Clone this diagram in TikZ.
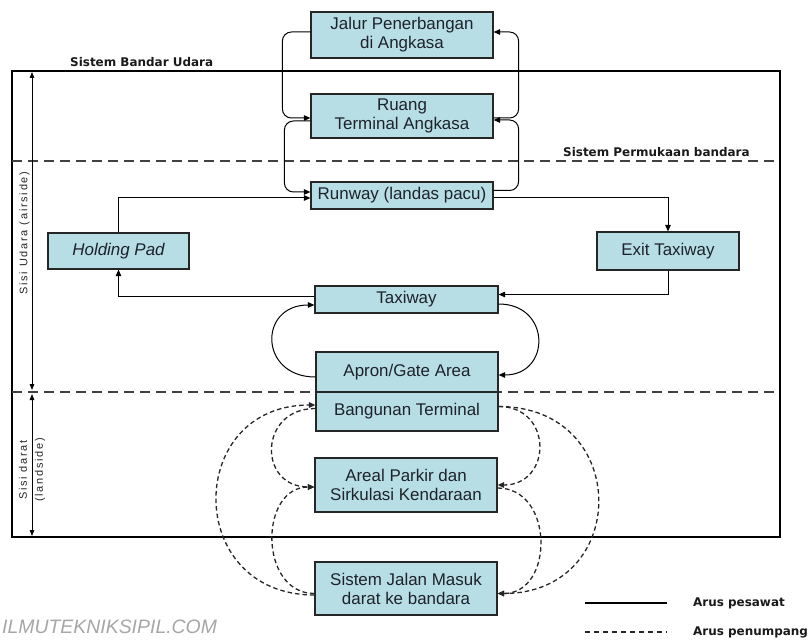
\documentclass[tikz,border=0pt]{standalone}
\usepackage{fontspec}
\setmainfont{Liberation Sans}
\newfontfamily\labelfont{DejaVu Sans}
\newfontfamily\sidefont[LetterSpace=16]{Liberation Sans}
\usepackage{tikz}
\usepackage{xcolor}
\usetikzlibrary{arrows.meta, calc}
\definecolor{boxcolor}{RGB}{183,221,229}
\definecolor{boxtext}{RGB}{30,34,42}
\tikzstyle{block} = [draw=black!85, line width=1.2bp, fill=boxcolor, text=boxtext, font=\fontsize{17}{19}\selectfont, align=center, inner sep=0pt, minimum width=182bp]
\tikzstyle{planeflow} = [-{Triangle[length=6.5bp,width=5.5bp]}, line width=1bp]
\tikzstyle{paxflow} = [planeflow, dash pattern=on 4.5bp off 3bp, line width=1.3bp, black!85]
\tikzstyle{divider} = [dash pattern=on 10bp off 6bp, line width=1.2bp, black!75]
\tikzstyle{caption} = [font=\labelfont\bfseries\fontsize{12}{14}\selectfont, text=black!90, inner sep=0pt]
\tikzstyle{sidelabel} = [font=\sidefont\fontsize{11}{16}\selectfont, text=black!85, inner sep=0pt]
\tikzstyle{sidearrow} = [{Triangle[length=6bp,width=4.5bp]}-{Triangle[length=6bp,width=4.5bp]}, line width=1bp]

\begin{document}
\begin{tikzpicture}[x=1bp, y=-1bp]
    \useasboundingbox (0,0) rectangle (810,640);

    % Frame of the airport system
    \draw[line width=2.2bp] (12,71) rectangle (780,537);
    \draw[divider] (12,161) -- (780,161);
    \draw[divider] (12,392) -- (780,392);
    \node[caption, anchor=west] (bandar_title) at (70,62) {Sistem Bandar Udara};
    \node[caption, anchor=west] (permukaan_title) at (563,152) {Sistem Permukaan bandara};

    % Airside / landside extent
    \coordinate (air_top) at (32,72);
    \coordinate (air_bottom) at (32,390);
    \coordinate (land_top) at (32,394);
    \coordinate (land_bottom) at (32,536);
    \draw[sidearrow] (air_top) -- (air_bottom);
    \draw[sidearrow] (land_top) -- (land_bottom);
    \node[sidelabel, rotate=90] (airside_label) at (24.5,233) {Sisi Udara (airside)};
    \node[sidelabel, rotate=90, align=center] (landside_label) at (32,470) {Sisi darat\\(landside)};

    % Boxes
    \node[block, minimum height=46bp] (jalur) at (402,35) {Jalur Penerbangan\\di Angkasa};
    \node[block, minimum height=44bp] (ruang) at (402,116) {Ruang\\Terminal Angkasa};
    \node[block, minimum height=27bp] (runway) at (402,195.5) {Runway (landas pacu)};
    \node[block, minimum width=141bp, minimum height=36bp, font=\fontsize{17}{19}\selectfont\itshape] (holding) at (118.5,251) {Holding Pad};
    \node[block, minimum width=142bp, minimum height=38bp] (exit) at (668,251) {Exit Taxiway};
    \node[block, minimum width=183bp, minimum height=27bp] (taxiway) at (406.5,299.5) {Taxiway};
    \node[block, minimum height=40bp] (apron) at (407,372) {Apron/Gate Area};
    \node[block, minimum height=39bp] (bangunan) at (407,411.5) {Bangunan Terminal};
    \node[block, minimum height=54bp] (areal) at (406,485) {Areal Parkir dan\\Sirkulasi Kendaraan};
    \node[block, minimum height=53bp] (jalan) at (406,588.5) {Sistem Jalan Masuk\\darat ke bandara};

    % Aircraft flows, airspace
    \draw[planeflow, rounded corners=9bp] ($(jalur.west)+(0,-3)$) -- ++(-28,0) |- ($(ruang.west)+(0,2)$);
    \draw[planeflow, rounded corners=9bp] ($(ruang.west)+(0,5)$) -- ++(-26,0) |- ($(runway.west)+(0,-3.5)$);
    \draw[planeflow, rounded corners=9bp] ($(ruang.east)+(0,2)$) -- ++(25,0) |- ($(jalur.east)+(0,-3)$);
    \draw[planeflow, rounded corners=9bp] ($(runway.east)+(0,-5)$) -- ++(25,0) |- ($(ruang.east)+(0,4)$);

    % Aircraft flows, airfield
    \draw[planeflow] (holding.north) |- ($(runway.west)+(0,2.5)$);
    \draw[planeflow] ($(runway.east)+(0,2.5)$) -| (exit.north);
    \draw[planeflow] (exit.south) |- ($(taxiway.east)+(0,-5)$);
    \draw[planeflow] ($(taxiway.west)+(0,-3)$) -| (holding.south);
    \draw[planeflow] ($(apron.west)+(0,5)$) to[out=180, in=180, looseness=2] ($(taxiway.west)+(0,5.5)$);
    \draw[planeflow] ($(taxiway.east)+(0,4.5)$) to[out=0, in=0, looseness=1.9] ($(apron.east)+(0,3)$);

    % Passenger flows
    \draw[paxflow] ($(jalan.west)+(0,6.5)$) to[out=180, in=180, looseness=1.76] ($(bangunan.west)+(0,-6.5)$);
    \draw[paxflow] ($(bangunan.west)+(0,-3)$) to[out=180, in=180, looseness=1.85] ($(areal.west)+(0,2)$);
    \draw[paxflow] ($(jalan.west)+(0,5)$) to[out=180, in=180, looseness=1.34] ($(areal.west)+(0,2)$);
    \draw[paxflow] ($(bangunan.east)+(0,-5)$) to[out=0, in=0, looseness=1.78] (areal.east);
    \draw[paxflow] ($(bangunan.east)+(0,-5)$) to[out=0, in=0, looseness=1.82] ($(jalan.east)+(0,5)$);
    \draw[paxflow] ($(areal.east)+(0,3)$) to[out=0, in=0, looseness=1.38] ($(jalan.east)+(0,5)$);

    % Legend
    \coordinate (solid_a) at (585,603);
    \coordinate (solid_b) at (667,603);
    \coordinate (dash_a) at (585,632);
    \coordinate (dash_b) at (667,632);
    \draw[line width=1.3bp] (solid_a) -- (solid_b);
    \draw[dash pattern=on 5bp off 4bp, line width=1.2bp, black!85] (dash_a) -- (dash_b);
    \node[caption, anchor=west] (pesawat_label) at (693,603) {Arus pesawat};
    \node[caption, anchor=west] (penumpang_label) at (693,632) {Arus penumpang};

    % Watermark
    \node[font=\fontsize{19.5}{20}\selectfont\itshape, text=black!35, anchor=base west, inner sep=0pt] (watermark) at (2,633) {ILMUTEKNIKSIPIL.COM};
\end{tikzpicture}
\end{document}
